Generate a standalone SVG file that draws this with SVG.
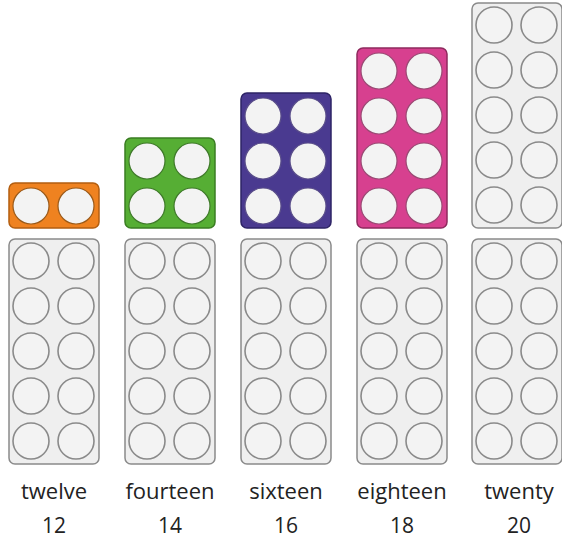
<svg xmlns="http://www.w3.org/2000/svg" xmlns:xlink="http://www.w3.org/1999/xlink" width="562" height="540" viewBox="0 0 562 540">
<style>
.frame{fill:#efefef;stroke:#8a8a8a;stroke-width:1.5}
.hole{fill:#f3f3f3;stroke:#8a8a8a;stroke-width:1.6}
.chole{fill:#f3f3f3;stroke-width:1.2}
.lbl{font-family:"Open Sans","Liberation Sans",sans-serif;font-size:22px;fill:#222;text-anchor:middle}
.num{font-family:"Open Sans","Liberation Sans",sans-serif;font-size:21px;fill:#222;text-anchor:middle}
</style>
<defs>
<g id="ten">
<rect class="frame" x="0" y="0" width="90" height="225" rx="6"/>
<circle class="hole" cx="22" cy="22" r="18"/><circle class="hole" cx="67" cy="22" r="18"/>
<circle class="hole" cx="22" cy="67" r="18"/><circle class="hole" cx="67" cy="67" r="18"/>
<circle class="hole" cx="22" cy="112" r="18"/><circle class="hole" cx="67" cy="112" r="18"/>
<circle class="hole" cx="22" cy="157" r="18"/><circle class="hole" cx="67" cy="157" r="18"/>
<circle class="hole" cx="22" cy="202" r="18"/><circle class="hole" cx="67" cy="202" r="18"/>
</g>
<g id="pair">
<circle class="chole" cx="22" cy="0" r="18"/><circle class="chole" cx="67" cy="0" r="18"/>
</g>
</defs>
<rect width="562" height="540" fill="#ffffff"/>

<g id="twelve">
<rect x="9" y="183" width="90" height="45" rx="6" fill="#ef8220" stroke="#b35e10" stroke-width="1.5"/>
<use xlink:href="#pair" x="9" y="206" stroke="#9a5a1a"/>
<use xlink:href="#ten" x="9" y="239"/>
<text class="lbl" x="54" y="499">twelve</text>
<text class="num" x="54" y="533">12</text>
</g>

<g id="fourteen">
<rect x="125" y="138" width="90" height="90" rx="6" fill="#56ae34" stroke="#3a7d22" stroke-width="1.5"/>
<use xlink:href="#pair" x="125" y="161" stroke="#3f7a2a"/>
<use xlink:href="#pair" x="125" y="206" stroke="#3f7a2a"/>
<use xlink:href="#ten" x="125" y="239"/>
<text class="lbl" x="170" y="499">fourteen</text>
<text class="num" x="170" y="533">14</text>
</g>

<g id="sixteen">
<rect x="241" y="93" width="90" height="135" rx="6" fill="#4a3a90" stroke="#2e2466" stroke-width="1.5"/>
<use xlink:href="#pair" x="241" y="116" stroke="#5a4e8a"/>
<use xlink:href="#pair" x="241" y="161" stroke="#5a4e8a"/>
<use xlink:href="#pair" x="241" y="206" stroke="#5a4e8a"/>
<use xlink:href="#ten" x="241" y="239"/>
<text class="lbl" x="286" y="499">sixteen</text>
<text class="num" x="286" y="533">16</text>
</g>

<g id="eighteen">
<rect x="357" y="48" width="90" height="180" rx="6" fill="#d7408f" stroke="#8e2a5e" stroke-width="1.5"/>
<use xlink:href="#pair" x="357" y="71" stroke="#9a4a74"/>
<use xlink:href="#pair" x="357" y="116" stroke="#9a4a74"/>
<use xlink:href="#pair" x="357" y="161" stroke="#9a4a74"/>
<use xlink:href="#pair" x="357" y="206" stroke="#9a4a74"/>
<use xlink:href="#ten" x="357" y="239"/>
<text class="lbl" x="402" y="499">eighteen</text>
<text class="num" x="402" y="533">18</text>
</g>

<g id="twenty">
<use xlink:href="#ten" x="472" y="3"/>
<use xlink:href="#ten" x="472" y="239"/>
<text class="lbl" x="519" y="499">twenty</text>
<text class="num" x="519" y="533">20</text>
</g>
<g id="connectors"/>
</svg>
